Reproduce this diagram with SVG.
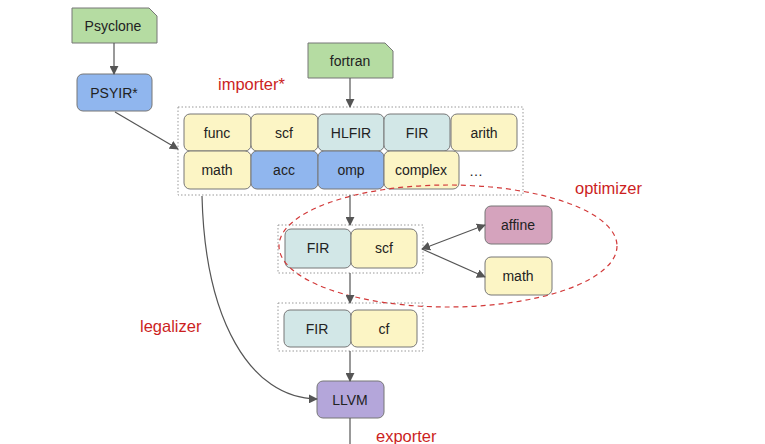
<svg xmlns="http://www.w3.org/2000/svg" width="765" height="444" viewBox="0 0 765 444">
<style>
text{font-family:"Liberation Sans",Arial,sans-serif;font-size:14px;fill:#222;text-anchor:middle;dominant-baseline:central}
.lbl{fill:#cc1f1f;font-size:16.5px;text-anchor:start}
.cell{stroke:#777;stroke-width:1}
.y{fill:#fcf5c5}.t{fill:#d2e7e7}.b{fill:#90b6ee}.g{fill:#b5dca2}.p{fill:#d5a3bd}.v{fill:#b4a6da}
.grp{fill:none;stroke:#999;stroke-width:1;stroke-dasharray:1.5 2}
.ln{fill:none;stroke:#555;stroke-width:1.2}
</style>
<defs>
<marker id="ah" viewBox="0 0 10 10" refX="9" refY="5" markerWidth="9" markerHeight="9" markerUnits="userSpaceOnUse" orient="auto-start-reverse"><path d="M0,0 L10,5 L0,10 z" fill="#555"/></marker>
</defs>
<rect width="765" height="444" fill="#ffffff"/>

<g id="labels">
<text class="lbl" x="218" y="84">importer*</text>
<text class="lbl" x="575" y="188">optimizer</text>
<text class="lbl" x="140" y="326">legalizer</text>
<text class="lbl" x="376" y="436">exporter</text>
</g>

<g id="groups">
<rect class="grp" x="178" y="107" width="345" height="88"/>
<rect class="grp" x="278" y="225" width="145" height="48"/>
<rect class="grp" x="278" y="303" width="145" height="48"/>
</g>

<g id="psyclone"><path class="cell g" d="M72,8 H149 L157,16 V43 H72 Z"/><text x="113" y="26">Psyclone</text></g>
<g id="psyir"><rect class="cell b" x="77" y="74" width="75" height="37" rx="6"/><text x="114" y="93">PSYIR*</text></g>
<g id="fortran"><path class="cell g" d="M308,43 H385 L393,51 V78 H308 Z"/><text x="350" y="61">fortran</text></g>

<g id="func"><rect class="cell y" x="184" y="114" width="67" height="37" rx="6"/><text x="217" y="133">func</text></g>
<g id="scf1"><rect class="cell y" x="251" y="114" width="67" height="37" rx="6"/><text x="284" y="133">scf</text></g>
<g id="hlfir"><rect class="cell t" x="318" y="114" width="66" height="37" rx="6"/><text x="351" y="133">HLFIR</text></g>
<g id="fir1"><rect class="cell t" x="384" y="114" width="66" height="37" rx="6"/><text x="417" y="133">FIR</text></g>
<g id="arith"><rect class="cell y" x="451" y="114" width="66" height="37" rx="6"/><text x="484" y="133">arith</text></g>
<g id="math1"><rect class="cell y" x="184" y="151" width="67" height="38" rx="6"/><text x="217" y="170">math</text></g>
<g id="acc"><rect class="cell b" x="251" y="151" width="67" height="38" rx="6"/><text x="284" y="170">acc</text></g>
<g id="omp"><rect class="cell b" x="318" y="151" width="66" height="38" rx="6"/><text x="351" y="170">omp</text></g>
<g id="complex"><rect class="cell y" x="384" y="151" width="75" height="38" rx="6"/><text x="421" y="170">complex</text></g>
<g id="more"><text x="476" y="171">…</text></g>

<g id="fir2"><rect class="cell t" x="285" y="229" width="66" height="39" rx="6"/><text x="318" y="248">FIR</text></g>
<g id="scf2"><rect class="cell y" x="351" y="229" width="66" height="39" rx="6"/><text x="384" y="248">scf</text></g>
<g id="affine"><rect class="cell p" x="485" y="206" width="67" height="38" rx="6"/><text x="518" y="225">affine</text></g>
<g id="math2"><rect class="cell y" x="485" y="257" width="67" height="38" rx="6"/><text x="518" y="276">math</text></g>

<g id="fir3"><rect class="cell t" x="284" y="310" width="67" height="37" rx="6"/><text x="317" y="329">FIR</text></g>
<g id="cf"><rect class="cell y" x="351" y="310" width="66" height="37" rx="6"/><text x="384" y="329">cf</text></g>
<g id="llvm"><rect class="cell v" x="317" y="381" width="67" height="37" rx="6"/><text x="350" y="400">LLVM</text></g>

<g id="optimizer-region"><ellipse cx="448" cy="246" rx="169" ry="61" fill="none" stroke="#d23a3a" stroke-width="1.2" stroke-dasharray="5 4"/></g>

<g id="connectors">
<line class="ln" x1="114" y1="43" x2="114" y2="74" marker-end="url(#ah)"/>
<line class="ln" x1="115" y1="112" x2="178" y2="149" marker-end="url(#ah)"/>
<line class="ln" x1="350" y1="78" x2="350" y2="107" marker-end="url(#ah)"/>
<line class="ln" x1="350" y1="195" x2="350" y2="225" marker-end="url(#ah)"/>
<line class="ln" x1="422" y1="249" x2="485" y2="225" marker-start="url(#ah)" marker-end="url(#ah)"/>
<line class="ln" x1="422" y1="249" x2="485" y2="277" marker-end="url(#ah)"/>
<line class="ln" x1="350" y1="273" x2="350" y2="303" marker-end="url(#ah)"/>
<line class="ln" x1="350" y1="351" x2="350" y2="381" marker-end="url(#ah)"/>
<line class="ln" x1="350" y1="418" x2="350" y2="446"/>
<path class="ln" d="M202,196 C205,320 250,398 317,399" marker-end="url(#ah)"/>
</g>
</svg>
